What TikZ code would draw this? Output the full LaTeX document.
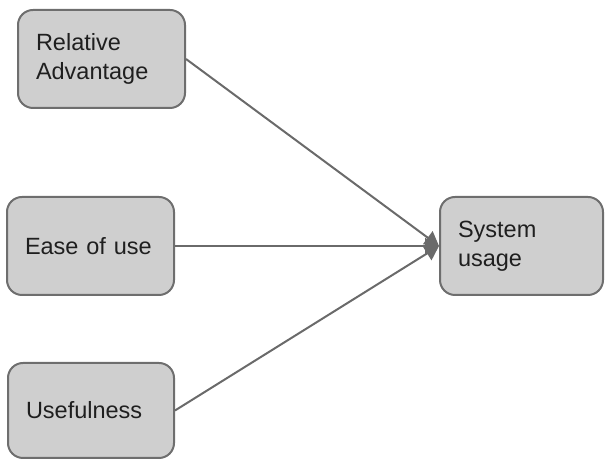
\documentclass[tikz,border=0pt]{standalone}
\usepackage{fontspec}
\setmainfont{Liberation Sans}
\usetikzlibrary{arrows.meta}
\definecolor{boxfill}{HTML}{CFCFCF}
\definecolor{boxline}{HTML}{6E6E6E}
\definecolor{conn}{HTML}{6A6A6A}
\begin{document}
\begin{tikzpicture}[x=1pt,y=1pt,
  factor/.style={draw=boxline, fill=boxfill, line width=2pt, rounded corners=15pt,
    inner xsep=18pt, inner ysep=0pt, align=left,
    font=\fontsize{23.5}{28.5}\selectfont, text=black!88},
  link/.style={draw=conn, line width=2pt, -{Triangle[length=14pt,width=16pt]}}]
\useasboundingbox (0,0) rectangle (605,462);
\node[factor, text width=131pt, minimum height=98pt] (ra) at (101.5,403) {Relative\\Advantage};
\node[factor, text width=131pt, minimum height=98pt] (eu) at (90.5,216) {Ease of use};
\node[factor, text width=130pt, minimum height=95pt] (uf) at (91,51.5) {Usefulness};
\node[factor, text width=127pt, minimum height=98pt] (su) at (521.5,216) {System\\usage};
\draw[link] (ra.east) -- (su.west);
\draw[link] (eu.east) -- (su.west);
\draw[link] (uf.east) -- (su.west);
\end{tikzpicture}
\end{document}
